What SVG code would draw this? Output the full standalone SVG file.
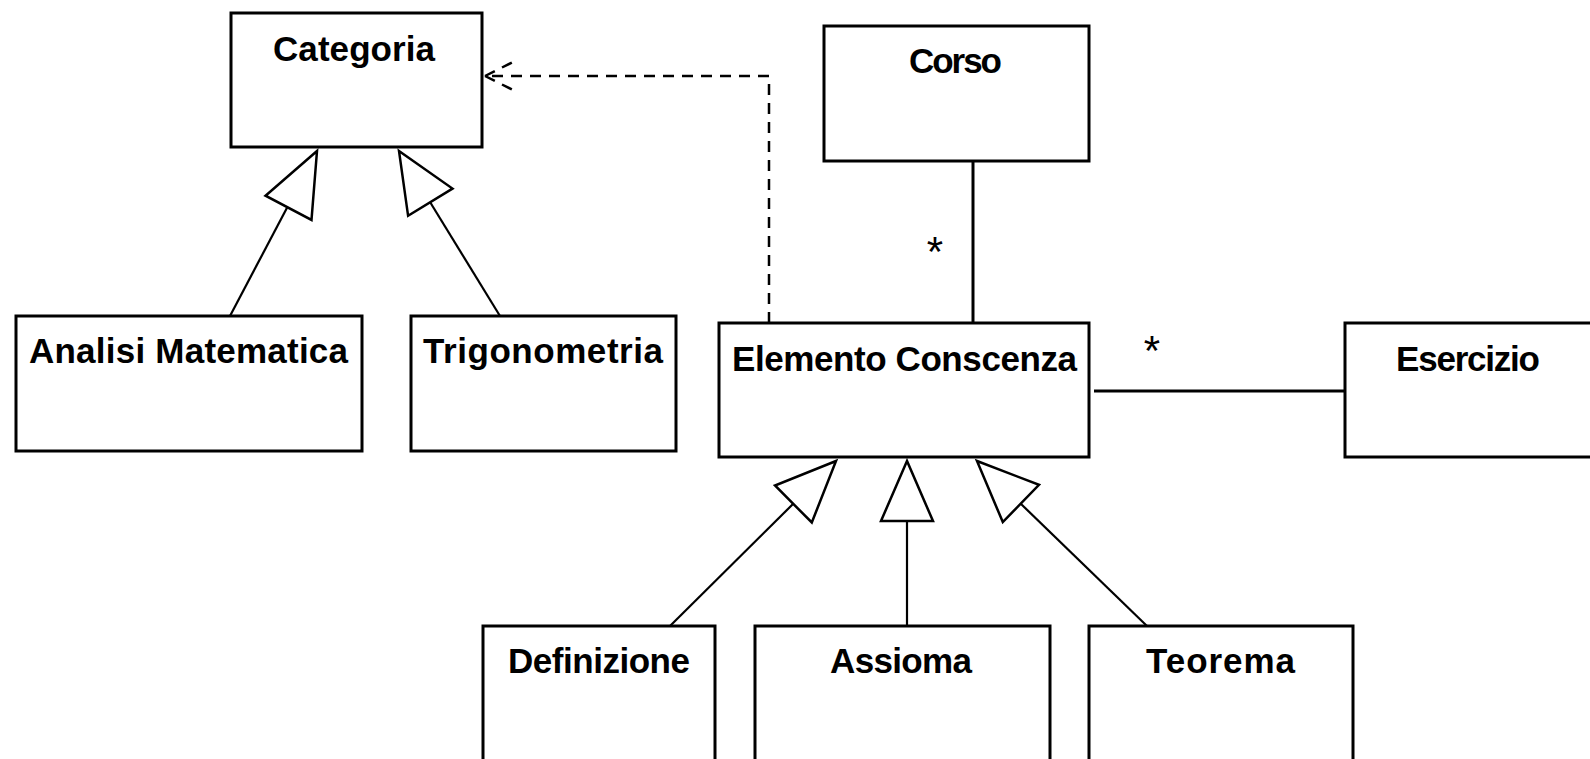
<svg xmlns="http://www.w3.org/2000/svg" width="1590" height="759" viewBox="0 0 1590 759">
  <style>
    .box { fill: #ffffff; stroke: #000000; stroke-width: 3; }
    .label { font-family: "Liberation Sans", Arial, sans-serif; font-weight: bold; font-size: 35px; fill: #000000; }
    .mult { font-family: "Liberation Sans", Arial, sans-serif; font-weight: normal; font-size: 42px; fill: #000000; }
    .line { fill: none; stroke: #000000; stroke-width: 2.2; }
    .assoc { fill: none; stroke: #000000; stroke-width: 3; }
    .dash { fill: none; stroke: #000000; stroke-width: 2.5; stroke-dasharray: 11 8; }
    .tri { fill: #ffffff; stroke: #000000; stroke-width: 2.5; stroke-linejoin: miter; }
  </style>
  <rect width="1590" height="759" fill="#ffffff"/>

  <!-- connectors: generalizations, dependency, associations -->
  <g id="connectors">
    <!-- Analisi Matematica -> Categoria -->
    <line class="line" x1="230" y1="316" x2="289" y2="204"/>
    <polygon class="tri" points="317,151 265.5,195.7 311.5,219.9"/>
    <!-- Trigonometria -> Categoria -->
    <line class="line" x1="500" y1="316" x2="430" y2="202"/>
    <polygon class="tri" points="399,151 452.5,188.6 408.1,215.8"/>
    <!-- Definizione -> Elemento Conscenza -->
    <line class="line" x1="670" y1="626" x2="793" y2="504"/>
    <polygon class="tri" points="836,461 775,485.5 811.8,522.5"/>
    <!-- Assioma -> Elemento Conscenza -->
    <line class="line" x1="907" y1="626" x2="907" y2="521"/>
    <polygon class="tri" points="907,461 881,521 933,521"/>
    <!-- Teorema -> Elemento Conscenza -->
    <line class="line" x1="1147" y1="626" x2="1020" y2="503"/>
    <polygon class="tri" points="977,461 1039,484.8 1002.8,522.1"/>
    <!-- Elemento Conscenza ..> Categoria -->
    <path class="dash" d="M769,323 V76 H489"/>
    <path class="dash" d="M485,76 L517,60 M485,76 L517,92"/>
    <!-- Corso - Elemento Conscenza -->
    <line class="assoc" x1="973" y1="161" x2="973" y2="323"/>
    <text class="mult" x="935" y="266" text-anchor="middle">*</text>
    <!-- Elemento Conscenza - Esercizio -->
    <line class="assoc" x1="1094" y1="391" x2="1345" y2="391"/>
    <text class="mult" x="1152" y="365" text-anchor="middle">*</text>
  </g>

  <g id="categoria">
    <rect class="box" x="231" y="13" width="251" height="134"/>
    <text class="label" x="273" y="61" textLength="162">Categoria</text>
  </g>
  <g id="corso">
    <rect class="box" x="824" y="26" width="265" height="135"/>
    <text class="label" x="909" y="73" textLength="93">Corso</text>
  </g>
  <g id="analisi-matematica">
    <rect class="box" x="16" y="316" width="346" height="135"/>
    <text class="label" x="29" y="363" textLength="319">Analisi Matematica</text>
  </g>
  <g id="trigonometria">
    <rect class="box" x="411" y="316" width="265" height="135"/>
    <text class="label" x="423" y="363" textLength="240">Trigonometria</text>
  </g>
  <g id="elemento-conscenza">
    <rect class="box" x="719" y="323" width="370" height="134"/>
    <text class="label" x="732" y="371" textLength="345">Elemento Conscenza</text>
  </g>
  <g id="esercizio">
    <rect class="box" x="1345" y="323" width="250" height="134"/>
    <text class="label" x="1396" y="371" textLength="144">Esercizio</text>
  </g>
  <g id="definizione">
    <rect class="box" x="483" y="626" width="232" height="150"/>
    <text class="label" x="508" y="673" textLength="182">Definizione</text>
  </g>
  <g id="assioma">
    <rect class="box" x="755" y="626" width="295" height="150"/>
    <text class="label" x="830" y="673" textLength="142">Assioma</text>
  </g>
  <g id="teorema">
    <rect class="box" x="1089" y="626" width="264" height="150"/>
    <text class="label" x="1146" y="673" textLength="149">Teorema</text>
  </g>
</svg>
